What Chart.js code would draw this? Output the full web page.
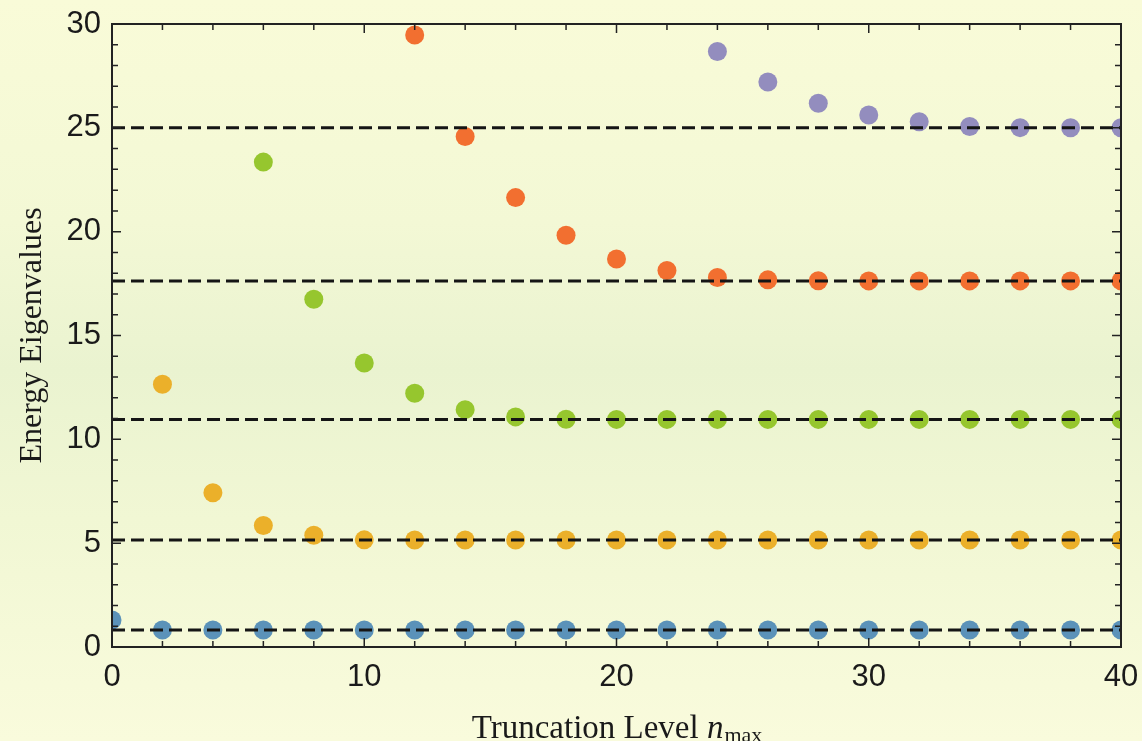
<!DOCTYPE html>
<html>
<head>
<meta charset="utf-8">
<script src="https://cdn.jsdelivr.net/npm/chart.js@4.4.1/dist/chart.umd.min.js"></script>
<style>
  html, body { margin: 0; padding: 0; }
  #wrap { width: 1142px; height: 741px; position: relative; }
</style>
</head>
<body>
<div id="wrap"><canvas id="levels"></canvas></div>
<script>
// truncation levels on the x axis
const nmax = [0, 2, 4, 6, 8, 10, 12, 14, 16, 18, 20, 22, 24, 26, 28, 30, 32, 34, 36, 38, 40];

// computed eigenvalues per level (null = not available at that truncation)
const level0 = [1.30, 0.82, 0.82, 0.82, 0.82, 0.82, 0.82, 0.82, 0.82, 0.82, 0.82, 0.82, 0.82, 0.82, 0.82, 0.82, 0.82, 0.82, 0.82, 0.82, 0.82];
const level1 = [null, 12.65, 7.43, 5.85, 5.38, 5.16, 5.15, 5.15, 5.15, 5.15, 5.15, 5.15, 5.15, 5.15, 5.15, 5.15, 5.15, 5.15, 5.15, 5.15, 5.15];
const level2 = [null, null, null, 23.35, 16.75, 13.68, 12.22, 11.43, 11.08, 10.97, 10.96, 10.96, 10.96, 10.96, 10.96, 10.96, 10.96, 10.96, 10.96, 10.96, 10.96];
const level3 = [null, null, null, null, null, null, 29.47, 24.58, 21.64, 19.83, 18.68, 18.13, 17.79, 17.68, 17.64, 17.63, 17.63, 17.63, 17.63, 17.63, 17.63];
const level4 = [null, null, null, null, null, null, null, null, null, null, null, null, 28.68, 27.21, 26.18, 25.62, 25.29, 25.06, 25.01, 25.0, 25.0];

// exact energies (dashed reference lines)
const exact = [0.82, 5.15, 10.96, 17.63, 25.0];

const colors = ["#5b92b9", "#ebb02a", "#96c62e", "#f26f30", "#938dbe"];
const series = [level0, level1, level2, level3, level4];

const pointSets = series.map((vals, i) => ({
  data: nmax.map((n, k) => vals[k] === null ? null : { x: n, y: vals[k] }).filter(p => p),
  showLine: false,
  pointRadius: 9.5,
  pointHoverRadius: 9.5,
  pointBackgroundColor: colors[i],
  pointBorderWidth: 0,
  clip: 0,
  order: 5
}));

const lineSets = exact.map(e => ({
  data: [{ x: nmax[0], y: e }, { x: nmax[nmax.length - 1], y: e }],
  showLine: true,
  borderColor: "#151515",
  borderWidth: 3,
  borderDash: [13, 6],
  pointRadius: 0,
  clip: 0,
  order: 1
}));

// keep tick labels from pushing the plot area around
function noPad(scale) {
  scale.paddingLeft = 0;
  scale.paddingRight = 0;
  scale.paddingTop = 0;
  scale.paddingBottom = 0;
}

// background wash, inward ticks, frame and axis titles
const decor = {
  id: "decor",
  beforeDraw(chart) {
    const ctx = chart.ctx;
    const g = ctx.createLinearGradient(0, 0, 0, chart.height);
    g.addColorStop(0, "#f9fbd8");
    g.addColorStop(0.3, "#f3f8d5");
    g.addColorStop(0.5, "#eaf3d0");
    g.addColorStop(0.7, "#f1f7d4");
    g.addColorStop(1, "#f9fbdc");
    ctx.save();
    ctx.fillStyle = g;
    ctx.fillRect(0, 0, chart.width, chart.height);
    ctx.restore();
  },
  afterDraw(chart) {
    const ctx = chart.ctx;
    const a = chart.chartArea;
    const xs = chart.scales.x, ys = chart.scales.y;
    ctx.save();
    ctx.strokeStyle = "#222";
    ctx.lineWidth = 1.5;
    ctx.beginPath();
    for (let v = 0; v <= 40; v += 2) {
      const px = xs.getPixelForValue(v);
      const len = v % 10 === 0 ? 9 : 6;
      ctx.moveTo(px, a.bottom); ctx.lineTo(px, a.bottom - len);
      ctx.moveTo(px, a.top); ctx.lineTo(px, a.top + len);
    }
    for (let v = 0; v <= 30; v += 1) {
      const py = ys.getPixelForValue(v);
      const len = v % 5 === 0 ? 9 : 6;
      ctx.moveTo(a.left, py); ctx.lineTo(a.left + len, py);
      ctx.moveTo(a.right, py); ctx.lineTo(a.right - len, py);
    }
    ctx.stroke();
    ctx.lineWidth = 2;
    ctx.strokeRect(a.left, a.top, a.right - a.left, a.bottom - a.top);

    // y title
    ctx.fillStyle = "#1a1a1a";
    ctx.font = "32px 'Liberation Serif', serif";
    ctx.textAlign = "center";
    ctx.textBaseline = "alphabetic";
    ctx.save();
    ctx.translate(41, (a.top + a.bottom) / 2);
    ctx.rotate(-Math.PI / 2);
    ctx.fillText("Energy Eigenvalues", 0, 0);
    ctx.restore();

    // x title with italic n and subscript
    const t1 = "Truncation Level ", t2 = "n", t3 = "max";
    const f1 = "33px 'Liberation Serif', serif";
    const f2 = "italic 33px 'Liberation Serif', serif";
    const f3 = "22px 'Liberation Serif', serif";
    ctx.font = f1; const w1 = ctx.measureText(t1).width;
    ctx.font = f2; const w2 = ctx.measureText(t2).width;
    ctx.font = f3; const w3 = ctx.measureText(t3).width;
    const x0 = (a.left + a.right) / 2 - (w1 + w2 + w3) / 2;
    ctx.textAlign = "left";
    ctx.font = f1; ctx.fillText(t1, x0, 738);
    ctx.font = f2; ctx.fillText(t2, x0 + w1, 738);
    ctx.font = f3; ctx.fillText(t3, x0 + w1 + w2 + 1, 742);
    ctx.restore();
  }
};

new Chart(document.getElementById("levels"), {
  type: "scatter",
  data: { datasets: [...lineSets, ...pointSets] },
  options: {
    responsive: true,
    maintainAspectRatio: false,
    animation: false,
    events: [],
    layout: { padding: { left: 0, right: 21, top: 24, bottom: 0 } },
    plugins: { legend: { display: false }, tooltip: { enabled: false } },
    scales: {
      x: {
        type: "linear",
        min: 0,
        max: 40,
        grid: { display: false, drawTicks: false },
        border: { display: false },
        ticks: {
          stepSize: 10,
          padding: 12,
          color: "#1a1a1a",
          font: { family: "'Liberation Sans', Arial, sans-serif", size: 31 }
        },
        afterFit(scale) { scale.height = 94; noPad(scale); }
      },
      y: {
        min: 0,
        max: 30,
        grid: { display: false, drawTicks: false },
        border: { display: false },
        ticks: {
          stepSize: 5,
          padding: 11,
          color: "#1a1a1a",
          font: { family: "'Liberation Sans', Arial, sans-serif", size: 31 }
        },
        afterFit(scale) { scale.width = 112; noPad(scale); }
      }
    }
  },
  plugins: [decor]
});
</script>
</body>
</html>
